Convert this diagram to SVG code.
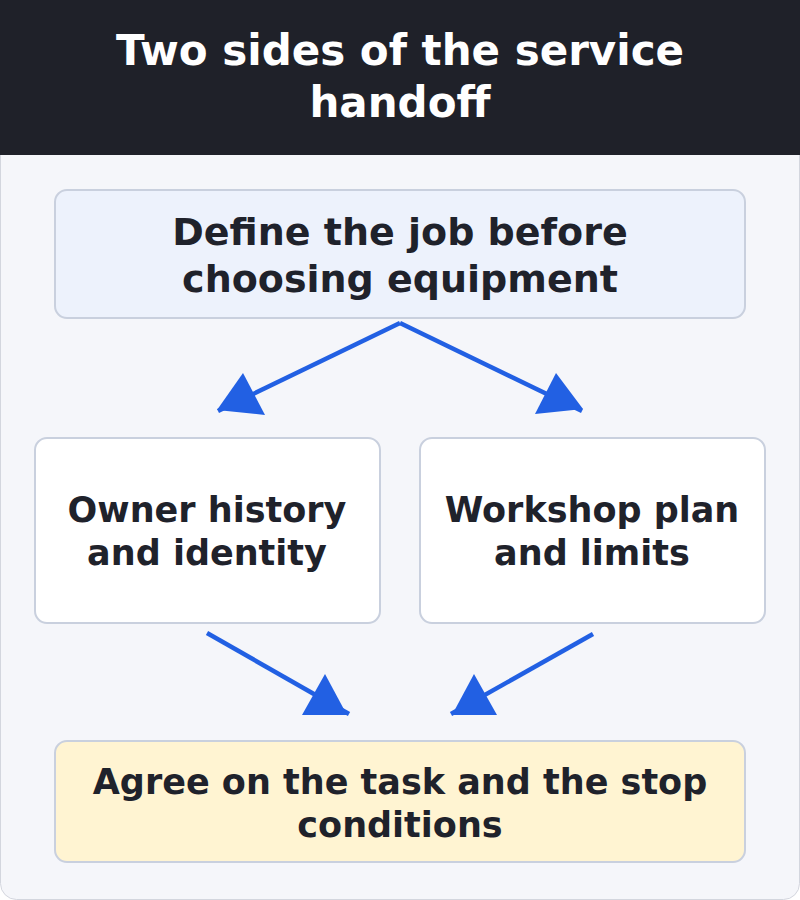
<svg xmlns="http://www.w3.org/2000/svg" width="800" height="900" viewBox="0 0 800 900">
<style>
.t{font-family:"DejaVu Sans","Liberation Sans",sans-serif;font-weight:bold;text-anchor:middle;fill:#1f222b}
.w{fill:#ffffff}
.box{stroke:#c9d0de;stroke-width:2}
.ln{stroke:#2260e3;stroke-width:4.5;fill:none}
.hd{fill:#2260e3}
</style>
<rect x="0.5" y="0.5" width="799" height="899" rx="16" fill="#f5f6fa" stroke="#d3d6de"/>
<rect x="0" y="0" width="800" height="155" fill="#1f2129"/>
<text class="t w" x="400" y="65" font-size="42">Two sides of the service</text>
<text class="t w" x="400" y="117" font-size="42">handoff</text>
<g id="connectors">
<line class="ln" x1="400" y1="323" x2="218" y2="411"/>
<polygon class="hd" points="243,373 217,410 265,415"/>
<line class="ln" x1="400" y1="323" x2="582" y2="411"/>
<polygon class="hd" points="556,373 535,414 583,409"/>
<line class="ln" x1="207" y1="633" x2="349" y2="714"/>
<polygon class="hd" points="325,674 302,715 347,715"/>
<line class="ln" x1="593" y1="634" x2="451" y2="714"/>
<polygon class="hd" points="474,674 452,715 497,715"/>
</g>
<g id="n1">
<rect class="box" x="55" y="190" width="690" height="128" rx="12" fill="#edf2fc"/>
<text class="t" x="400" y="245" font-size="38">Define the job before</text>
<text class="t" x="400" y="292" font-size="38">choosing equipment</text>
</g>
<g id="n2">
<rect class="box" x="35" y="438" width="345" height="185" rx="12" fill="#ffffff"/>
<text class="t" x="207" y="522" font-size="35">Owner history</text>
<text class="t" x="207" y="565" font-size="35">and identity</text>
</g>
<g id="n3">
<rect class="box" x="420" y="438" width="345" height="185" rx="12" fill="#ffffff"/>
<text class="t" x="592" y="522" font-size="35">Workshop plan</text>
<text class="t" x="592" y="565" font-size="35">and limits</text>
</g>
<g id="n4">
<rect class="box" x="55" y="741" width="690" height="121" rx="12" fill="#fff4d2"/>
<text class="t" x="400" y="794" font-size="35">Agree on the task and the stop</text>
<text class="t" x="400" y="837" font-size="35">conditions</text>
</g>
</svg>
